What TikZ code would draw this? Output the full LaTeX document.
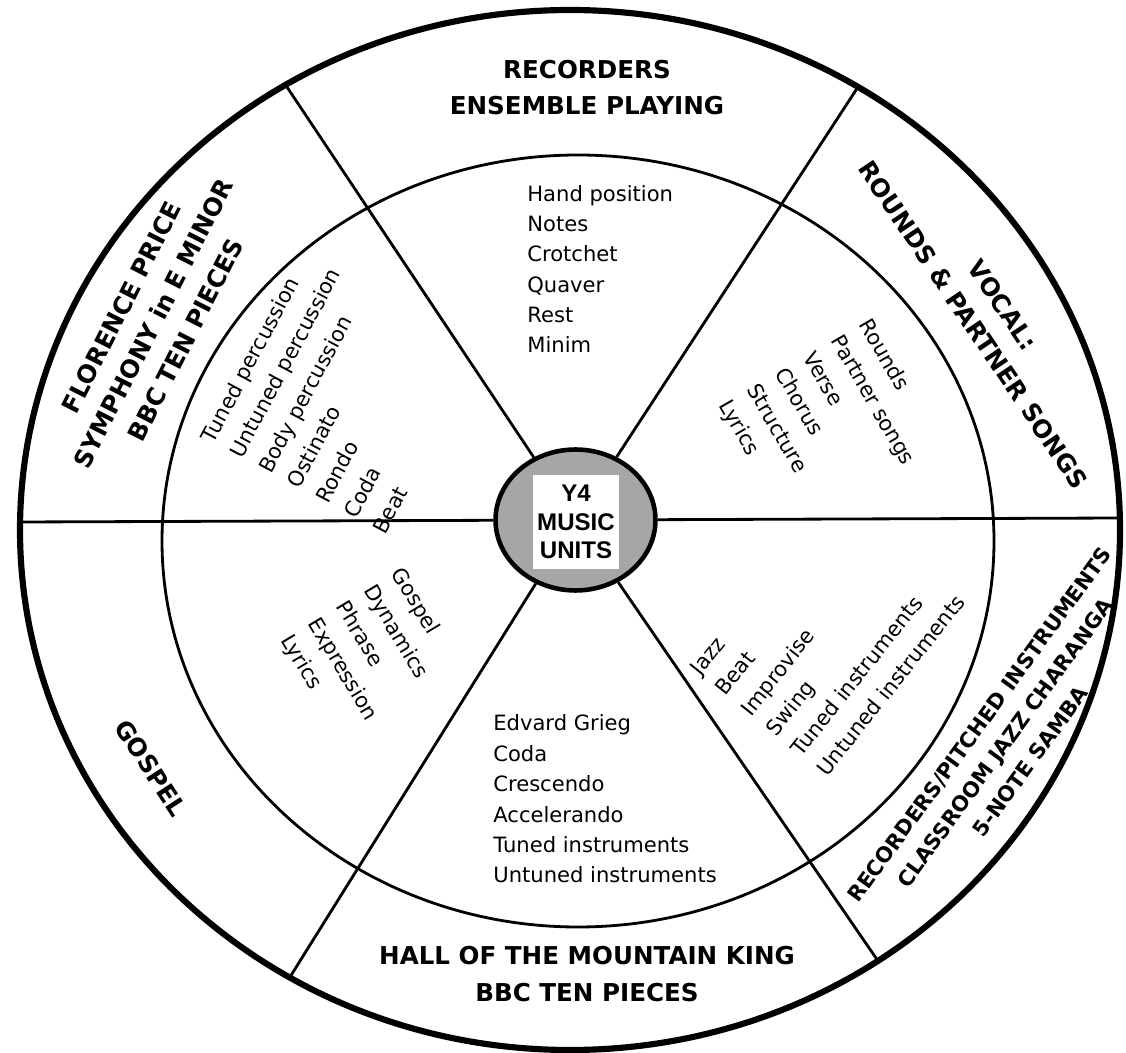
\documentclass[tikz,border=0pt]{standalone}
\usepackage{fontspec}
\setmainfont{DejaVu Sans}
\newfontfamily\hubfont{Liberation Sans}
\usetikzlibrary{shapes.geometric}
\definecolor{hubgray}{HTML}{A6A6A6}
\begin{document}
\begin{tikzpicture}[x=0.02cm, y=-0.02cm,
                ring/.style = {line width=3.5pt},
                rim/.style = {line width=1.6pt},
                spoke/.style = {line width=1.6pt},
                hub/.style = {ellipse, draw, line width=2.6pt, fill=hubgray,
                              minimum width=3.2cm, minimum height=2.82cm, inner sep=0pt},
                hublabel/.style = {fill=white, minimum width=1.72cm, minimum height=1.9cm,
                              inner sep=0pt, align=center,
                              font=\hubfont\bfseries\fontsize{13.7}{16.2}\selectfont},
                unit/.style = {inner sep=0pt, align=center,
                              font=\bfseries\fontsize{14}{20.4}\selectfont},
                topics/.style = {inner sep=0pt, align=left,
                              font=\fontsize{12}{17.3}\selectfont},
                tilted/.style = {inner sep=0pt, align=left,
                              font=\fontsize{12}{18.4}\selectfont}
            ]
            \useasboundingbox (0,0) rectangle (1126,1053);
            \node[hub] (hub) at (575.5,520) {};
            \coordinate (ul) at (285.5,84.8);
            \coordinate (ur) at (858,87);
            \coordinate (w) at (20,522);
            \coordinate (e) at (1120,518);
            \coordinate (ll) at (290,977);
            \coordinate (lr) at (878,961);
            \foreach \p in {ul,ur,w,e,ll,lr}
                \draw[spoke] (hub) -- (\p);
            \draw[rim] (578,541) ellipse [x radius=416, y radius=386];
            \draw[ring] (570,530) ellipse [x radius=550, y radius=520];
            \node[hublabel] (units) at (576,522) {Y4\\MUSIC\\UNITS};

            \node[unit] (recorders) at (587,87.5) {RECORDERS\\ENSEMBLE PLAYING};
            \node[unit, rotate=-56] (vocal) at (988,315) {VOCAL:\\ROUNDS \& PARTNER SONGS};
            \node[unit, rotate=54, font=\bfseries\fontsize{12}{17.9}\selectfont] (pitched) at (1005,743)
                {RECORDERS/PITCHED INSTRUMENTS\\CLASSROOM JAZZ CHARANGA\\5-NOTE SAMBA};
            \node[unit, font=\bfseries\fontsize{14}{21.5}\selectfont] (hall) at (587,974)
                {HALL OF THE MOUNTAIN KING\\BBC TEN PIECES};
            \node[unit, rotate=-57] (gospel) at (151,768) {GOSPEL};
            \node[unit, rotate=63] (florence) at (153.5,323.5)
                {FLORENCE PRICE\\SYMPHONY in E MINOR\\BBC TEN PIECES};

            \node[topics, anchor=west] (notes) at (527,269)
                {Hand position\\Notes\\Crotchet\\Quaver\\Rest\\Minim};
            \node[tilted, rotate=-60] (songs) at (830,425)
                {Rounds\\Partner songs\\Verse\\Chorus\\Structure\\Lyrics};
            \node[tilted, rotate=51.5] (jazz) at (827.5,635)
                {Jazz\\Beat\\Improvise\\Swing\\Tuned instruments\\Untuned instruments};
            \node[topics, anchor=west] (grieg) at (493,799)
                {Edvard Grieg\\Coda\\Crescendo\\Accelerando\\Tuned instruments\\Untuned instruments};
            \node[tilted, rotate=-59] (gospeltopics) at (370,653)
                {Gospel\\Dynamics\\Phrase\\Expression\\Lyrics};
            \node[tilted, rotate=62] (percussion) at (342,393)
                {Tuned percussion\\Untuned percussion\\Body percussion\\Ostinato\\Rondo\\Coda\\Beat};
        \end{tikzpicture}
\end{document}
